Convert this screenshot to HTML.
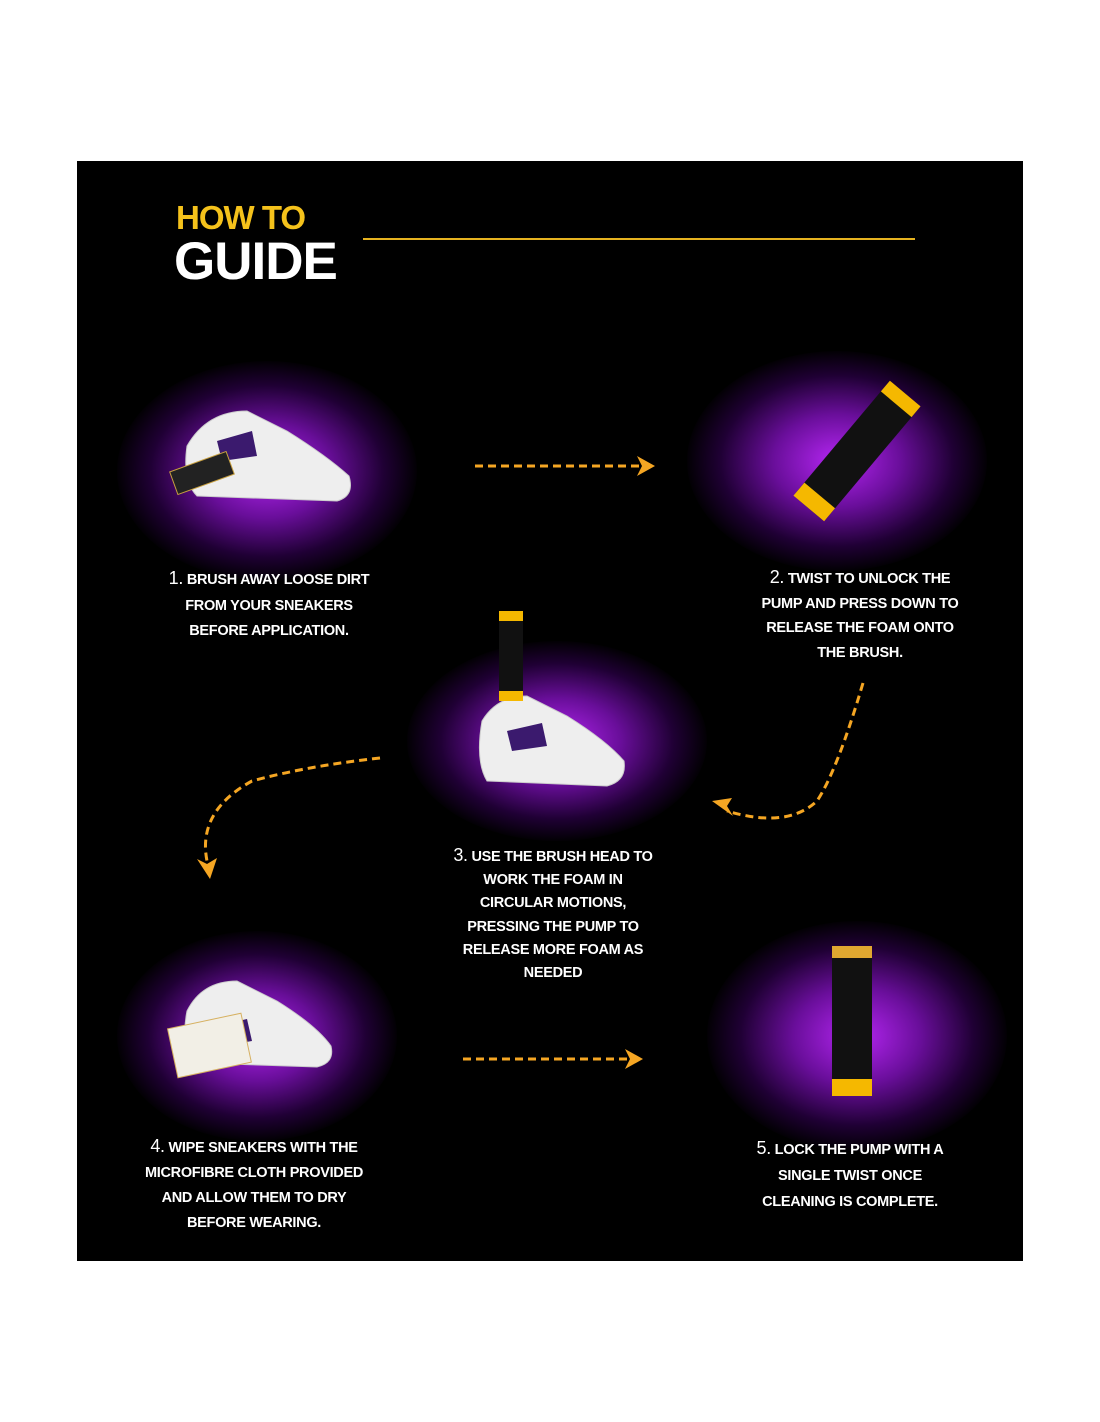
<!DOCTYPE html>
<html><head><meta charset="utf-8"><style>
body{margin:0;width:1100px;height:1422px;background:#fff;position:relative;overflow:hidden;font-family:"Liberation Sans",sans-serif}
#p{position:absolute;left:77px;top:161px;width:946px;height:1100px;background:#000;overflow:hidden}
.g{position:absolute;border-radius:50%;background:radial-gradient(ellipse at center,rgba(190,40,255,.95) 0%,rgba(150,20,220,.7) 30%,rgba(90,0,150,.35) 55%,rgba(0,0,0,0) 72%)}
.t{position:absolute;color:#fff;font-weight:bold;font-size:14.5px;line-height:25.5px;text-align:center;letter-spacing:-.3px;white-space:nowrap}
.t b{font-size:18px;font-weight:normal}
.a{position:absolute;color:#fff;font-weight:bold}
</style></head><body>
<div id="p">
<div class="a" style="left:99px;top:38px;font-size:33px;color:#f5c21b;letter-spacing:-1px">HOW TO</div>
<div class="a" style="left:97px;top:70px;font-size:53px;letter-spacing:-1px">GUIDE</div>
<div style="position:absolute;left:286px;top:77px;width:552px;height:2px;background:#e6b320"></div>

<div class="g" style="left:40px;top:200px;width:300px;height:220px"></div>
<div class="g" style="left:610px;top:190px;width:300px;height:220px"></div>
<div class="g" style="left:330px;top:480px;width:300px;height:200px"></div>
<div class="g" style="left:40px;top:770px;width:280px;height:210px"></div>
<div class="g" style="left:630px;top:760px;width:300px;height:230px"></div>

<svg width="946" height="1100" style="position:absolute;left:0;top:0">
<g fill="#eee" stroke="#ccc">
<!-- shoe1 -->
<path d="M110 285 Q130 250 170 250 L210 270 Q250 295 272 315 Q278 335 260 340 L120 335 Q105 320 110 285Z"/>
<!-- shoe3 -->
<path d="M405 560 Q420 535 450 535 L490 555 Q530 580 547 600 Q550 620 530 625 L410 620 Q398 600 405 560Z"/>
<!-- shoe4 -->
<path d="M110 850 Q125 820 160 820 L200 840 Q240 865 254 885 Q258 902 240 906 L120 902 Q103 885 110 850Z"/>
</g>
<g fill="#3b1a6e"><path d="M140 280 L175 270 L180 295 L145 300Z"/><path d="M430 570 L465 562 L470 585 L435 590Z"/><path d="M140 865 L170 858 L175 880 L145 885Z"/></g>
<rect x="95" y="300" width="60" height="24" fill="#222" stroke="#c8a040" transform="rotate(-20 125 312)"/>
<rect x="95" y="860" width="75" height="50" fill="#f2efe6" stroke="#d6b060" transform="rotate(-12 130 885)"/>
<!-- bottles -->
<g transform="rotate(40 780 290)"><rect x="760" y="215" width="40" height="150" rx="4" fill="#111"/><rect x="760" y="215" width="40" height="14" fill="#f5b800"/><rect x="760" y="348" width="40" height="17" fill="#f5b800"/></g>
<rect x="422" y="450" width="24" height="90" rx="3" fill="#111"/><rect x="422" y="450" width="24" height="10" fill="#f5b800"/><rect x="422" y="530" width="24" height="10" fill="#f5b800"/>
<rect x="755" y="785" width="40" height="150" rx="3" fill="#111"/><rect x="755" y="785" width="40" height="12" fill="#e0a830"/><rect x="755" y="918" width="40" height="17" fill="#f5b800"/>
<g fill="none" stroke="#f5a623" stroke-width="3" stroke-dasharray="8 5">
<line x1="398" y1="305" x2="568" y2="305"/>
<line x1="386" y1="898" x2="556" y2="898"/>
<path d="M786 522 Q760 610 740 640 Q710 668 650 650"/>
<path d="M303 597 Q230 605 175 620 Q120 650 130 700"/>
</g>
<g fill="#f5a623">
<path d="M578 305 L560 295 L565 305 L560 315Z"/>
<path d="M566 898 L548 888 L553 898 L548 908Z"/>
<path d="M635 640 L655 637 L650 645 L656 655Z"/>
<path d="M133 718 L120 698 L130 703 L140 697Z"/>
</g>
</svg>

<div class="t" style="left:192px;top:405px;transform:translateX(-50%)"><b>1.</b> BRUSH AWAY LOOSE DIRT<br>FROM YOUR SNEAKERS<br>BEFORE APPLICATION.</div>
<div class="t" style="left:783px;top:404px;line-height:24.7px;transform:translateX(-50%)"><b>2.</b> TWIST TO UNLOCK THE<br>PUMP AND PRESS DOWN TO<br>RELEASE THE FOAM ONTO<br>THE BRUSH.</div>
<div class="t" style="left:476px;top:683px;line-height:23.2px;transform:translateX(-50%)"><b>3.</b> USE THE BRUSH HEAD TO<br>WORK THE FOAM IN<br>CIRCULAR MOTIONS,<br>PRESSING THE PUMP TO<br>RELEASE MORE FOAM AS<br>NEEDED</div>
<div class="t" style="left:177px;top:973px;line-height:25px;transform:translateX(-50%)"><b>4.</b> WIPE SNEAKERS WITH THE<br>MICROFIBRE CLOTH PROVIDED<br>AND ALLOW THEM TO DRY<br>BEFORE WEARING.</div>
<div class="t" style="left:773px;top:974px;line-height:26px;transform:translateX(-50%)"><b>5.</b> LOCK THE PUMP WITH A<br>SINGLE TWIST ONCE<br>CLEANING IS COMPLETE.</div>
</div>
</body></html>
